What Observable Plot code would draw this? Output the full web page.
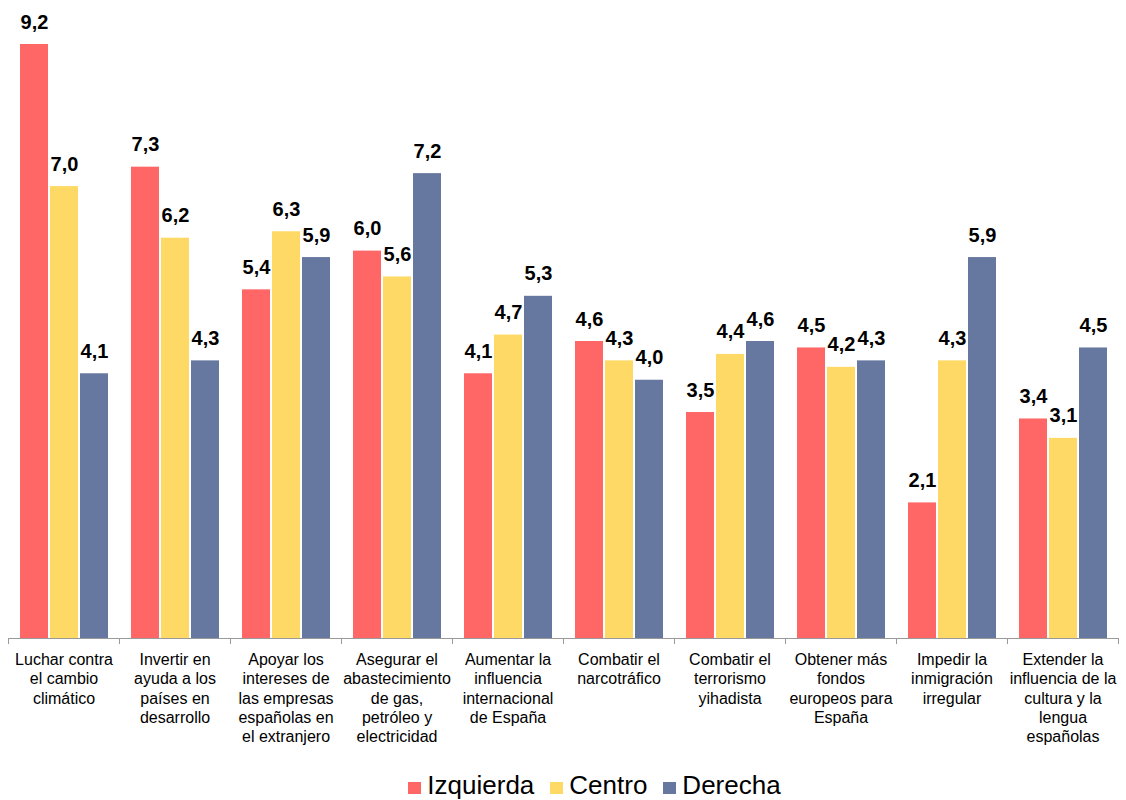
<!DOCTYPE html>
<html>
<head>
<meta charset="utf-8">
<script src="https://cdn.jsdelivr.net/npm/d3@7"></script>
<script src="https://cdn.jsdelivr.net/npm/@observablehq/plot@0.6"></script>
<style>
  html, body { margin: 0; padding: 0; background: #fff; }
  body { width: 1126px; font-family: "Liberation Sans", Arial, sans-serif; color: #000; }
  #legend { display: flex; justify-content: center; align-items: baseline; padding-left: 63px;
            height: 30px; line-height: 30px; font-size: 26px; }
  #legend .item { display: flex; align-items: baseline; margin: 0 8px; }
  #legend .sw { display: inline-block; width: 13px; height: 12px; margin-right: 6px; }
</style>
</head>
<body>
<div id="chart"></div>
<div id="legend"></div>
<script>
const categories = [
  "Luchar contra el cambio climático",
  "Invertir en ayuda a los países en desarrollo",
  "Apoyar los intereses de las empresas españolas en el extranjero",
  "Asegurar el abastecimiento de gas, petróleo y electricidad",
  "Aumentar la influencia internacional de España",
  "Combatir el narcotráfico",
  "Combatir el terrorismo yihadista",
  "Obtener más fondos europeos para España",
  "Impedir la inmigración irregular",
  "Extender la influencia de la cultura y la lengua españolas"
];
const tickLabels = [
  "Luchar contra\nel cambio\nclimático",
  "Invertir en\nayuda a los\npaíses en\ndesarrollo",
  "Apoyar los\nintereses de\nlas empresas\nespañolas en\nel extranjero",
  "Asegurar el\nabastecimiento\nde gas,\npetróleo y\nelectricidad",
  "Aumentar la\ninfluencia\ninternacional\nde España",
  "Combatir el\nnarcotráfico",
  "Combatir el\nterrorismo\nyihadista",
  "Obtener más\nfondos\neuropeos para\nEspaña",
  "Impedir la\ninmigración\nirregular",
  "Extender la\ninfluencia de la\ncultura y la\nlengua\nespañolas"
];
const seriesNames = ["Izquierda", "Centro", "Derecha"];
const seriesColors = ["#FF6666", "#FFD966", "#6677A0"];
const izquierda = [9.2, 7.3, 5.4, 6.0, 4.1, 4.6, 3.5, 4.5, 2.1, 3.4];
const centro    = [7.0, 6.2, 6.3, 5.6, 4.7, 4.3, 4.4, 4.2, 4.3, 3.1];
const derecha   = [4.1, 4.3, 5.9, 7.2, 5.3, 4.0, 4.6, 4.3, 5.9, 4.5];

const seriesValues = [izquierda, centro, derecha];
const data = [];
categories.forEach((c, i) => {
  seriesNames.forEach((s, j) => {
    data.push({category: c, series: s, value: seriesValues[j][i]});
  });
});
const fmt = v => v.toFixed(1).replace(".", ",");

const chart = Plot.plot({
  width: 1126,
  height: 770,
  marginLeft: 8,
  marginRight: 8,
  marginTop: 44,
  marginBottom: 132,
  style: {fontFamily: "'Liberation Sans', Arial, sans-serif", color: "#000", background: "#fff"},
  fx: {domain: categories, padding: 0, label: null},
  x: {domain: seriesNames, paddingInner: 0.083, paddingOuter: 0.39, axis: null},
  y: {domain: [0, 9.2], axis: null},
  color: {domain: seriesNames, range: seriesColors},
  marks: [
    Plot.barY(data, {fx: "category", x: "series", y: "value", fill: "series"}),
    Plot.ruleY([0], {stroke: "#999", strokeWidth: 1}),
    Plot.frame({anchor: "left", stroke: "#999", insetTop: 594, insetBottom: -5}),
    Plot.frame({anchor: "right", stroke: "#999", insetTop: 594, insetBottom: -5}),
    Plot.text(data, {fx: "category", x: "series", y: "value", text: d => fmt(d.value),
      lineAnchor: "bottom", dy: -16, fontSize: 20, fontWeight: "bold", fill: "#000"}),
    Plot.axisFx({anchor: "bottom", tickSize: 0, tickPadding: 13, fontSize: 16, lineHeight: 1.2,
      label: null, tickFormat: d => tickLabels[categories.indexOf(d)]})
  ]
});
document.getElementById("chart").appendChild(chart);

const legend = document.getElementById("legend");
seriesNames.forEach((s, i) => {
  const item = document.createElement("span");
  item.className = "item";
  const sw = document.createElement("span");
  sw.className = "sw";
  sw.style.background = seriesColors[i];
  item.appendChild(sw);
  item.appendChild(document.createTextNode(s));
  legend.appendChild(item);
});
</script>
</body>
</html>
